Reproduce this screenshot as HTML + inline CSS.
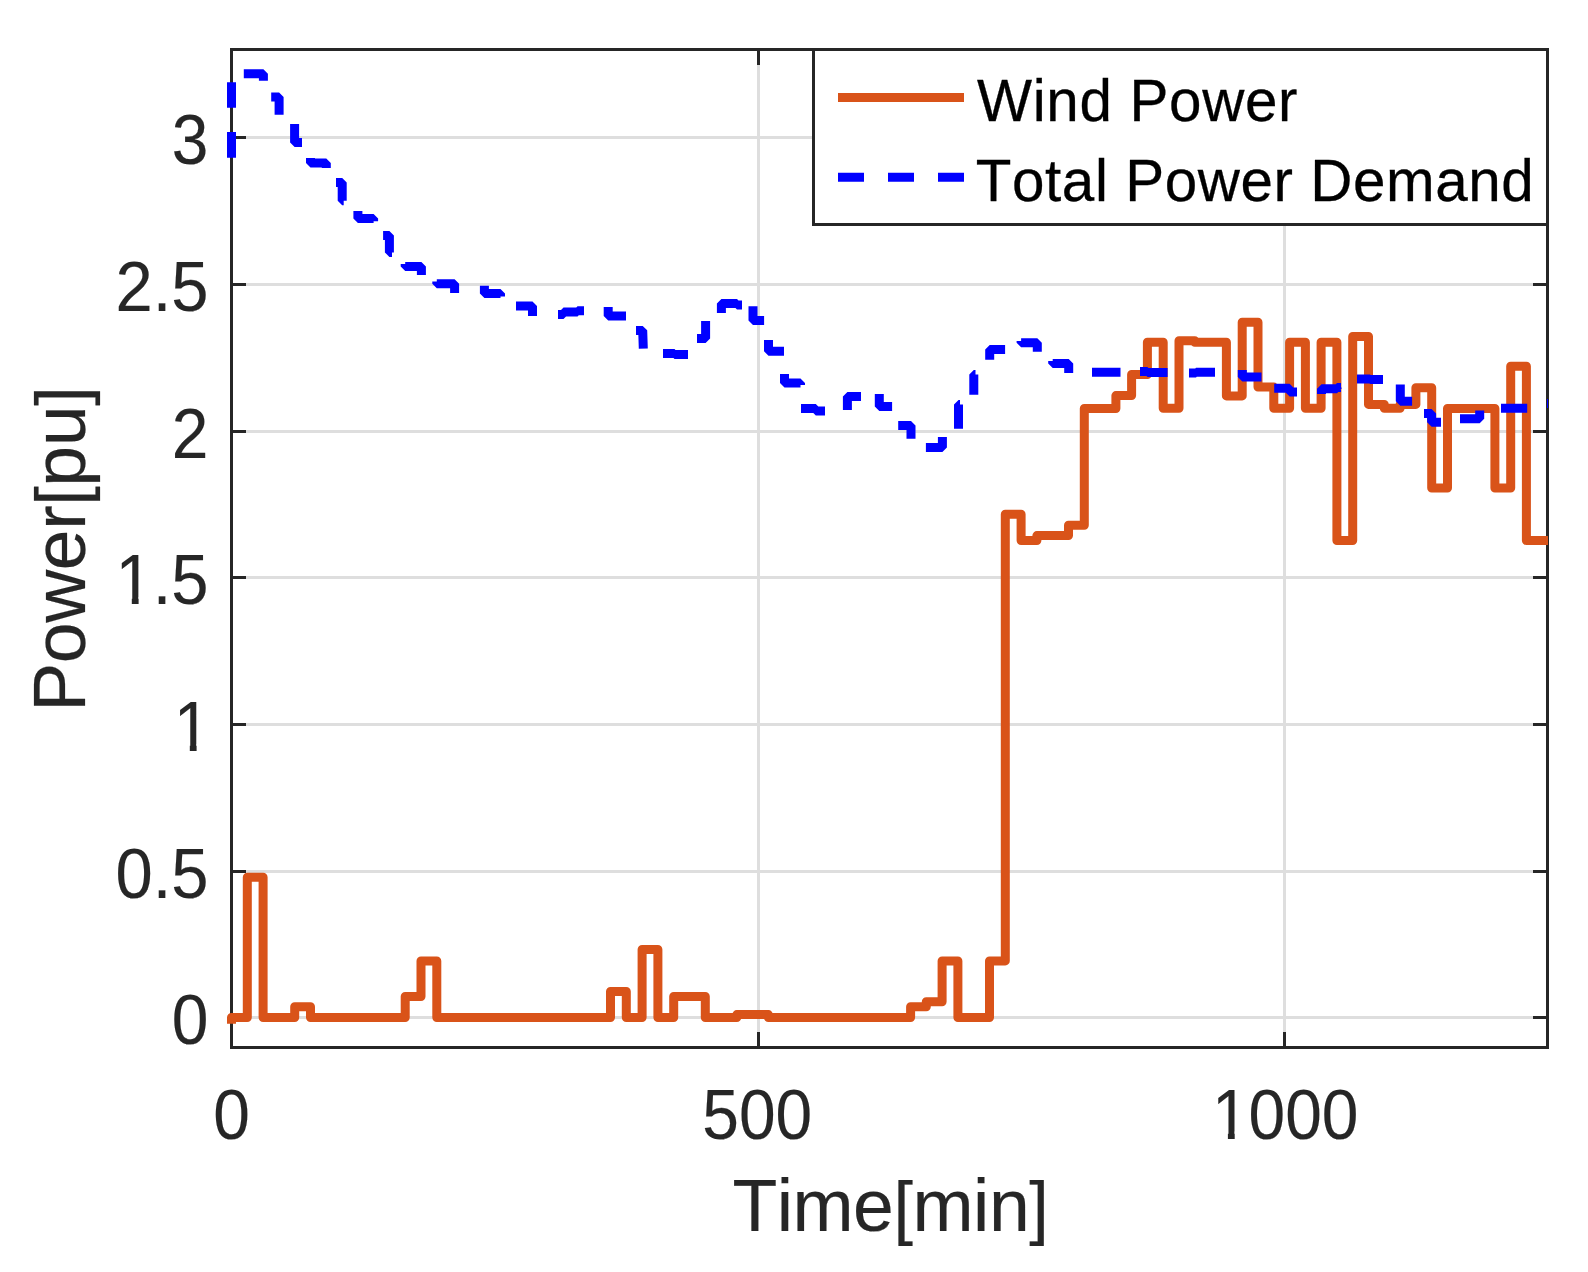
<!DOCTYPE html>
<html lang="en"><head><meta charset="utf-8"><title>Wind Power vs Total Power Demand</title>
<style>html,body{margin:0;padding:0;background:#fff}svg{display:block}text{font-family:"Liberation Sans",Arial,Helvetica,sans-serif;font-kerning:none;font-feature-settings:"kern" 0,"liga" 0}</style></head><body>
<svg width="1588" height="1272" viewBox="0 0 1588 1272">
<rect width="1588" height="1272" fill="#fff"/>
<g stroke="#dedede" stroke-width="3" shape-rendering="crispEdges">
<line x1="231.5" y1="1017.5" x2="1547.5" y2="1017.5"/>
<line x1="231.5" y1="871.5" x2="1547.5" y2="871.5"/>
<line x1="231.5" y1="724.5" x2="1547.5" y2="724.5"/>
<line x1="231.5" y1="577.5" x2="1547.5" y2="577.5"/>
<line x1="231.5" y1="431.5" x2="1547.5" y2="431.5"/>
<line x1="231.5" y1="284.5" x2="1547.5" y2="284.5"/>
<line x1="231.5" y1="137.5" x2="1547.5" y2="137.5"/>
<line x1="758.5" y1="49.5" x2="758.5" y2="1047.5"/>
<line x1="1284.5" y1="49.5" x2="1284.5" y2="1047.5"/>
</g>
<g stroke="#262626" stroke-width="3" fill="none" shape-rendering="crispEdges">
<rect x="231.5" y="49.5" width="1316.0" height="998.0"/>
<line x1="231.5" y1="1017.5" x2="246.0" y2="1017.5"/>
<line x1="1547.5" y1="1017.5" x2="1533.0" y2="1017.5"/>
<line x1="231.5" y1="871.5" x2="246.0" y2="871.5"/>
<line x1="1547.5" y1="871.5" x2="1533.0" y2="871.5"/>
<line x1="231.5" y1="724.5" x2="246.0" y2="724.5"/>
<line x1="1547.5" y1="724.5" x2="1533.0" y2="724.5"/>
<line x1="231.5" y1="577.5" x2="246.0" y2="577.5"/>
<line x1="1547.5" y1="577.5" x2="1533.0" y2="577.5"/>
<line x1="231.5" y1="431.5" x2="246.0" y2="431.5"/>
<line x1="1547.5" y1="431.5" x2="1533.0" y2="431.5"/>
<line x1="231.5" y1="284.5" x2="246.0" y2="284.5"/>
<line x1="1547.5" y1="284.5" x2="1533.0" y2="284.5"/>
<line x1="231.5" y1="137.5" x2="246.0" y2="137.5"/>
<line x1="1547.5" y1="137.5" x2="1533.0" y2="137.5"/>
<line x1="758.5" y1="1047.5" x2="758.5" y2="1032.0"/>
<line x1="758.5" y1="49.5" x2="758.5" y2="65.0"/>
<line x1="1284.5" y1="1047.5" x2="1284.5" y2="1032.0"/>
<line x1="1284.5" y1="49.5" x2="1284.5" y2="65.0"/>
</g>
<path d="M231.5,1023.8 L231.5,1017.5 L247.3,1017.5 L247.3,877.3 L263.1,877.3 L263.1,1017.5 L294.7,1017.5 L294.7,1006.8 L310.5,1006.8 L310.5,1017.5 L405.2,1017.5 L405.2,996.5 L421.0,996.5 L421.0,960.9 L436.8,960.9 L436.8,1017.5 L610.5,1017.5 L610.5,991.4 L626.3,991.4 L626.3,1017.5 L642.1,1017.5 L642.1,949.4 L657.9,949.4 L657.9,1017.5 L673.7,1017.5 L673.7,996.5 L705.3,996.5 L705.3,1017.5 L736.8,1017.5 L736.8,1014.6 L768.4,1014.6 L768.4,1017.5 L910.6,1017.5 L910.6,1006.8 L926.3,1006.8 L926.3,1001.7 L942.1,1001.7 L942.1,960.9 L957.9,960.9 L957.9,1017.5 L989.5,1017.5 L989.5,960.9 L1005.3,960.9 L1005.3,514.3 L1021.1,514.3 L1021.1,540.5 L1036.9,540.5 L1036.9,535.6 L1068.5,535.6 L1068.5,525.3 L1084.3,525.3 L1084.3,408.5 L1115.9,408.5 L1115.9,395.6 L1131.6,395.6 L1131.6,374.5 L1147.4,374.5 L1147.4,342.3 L1163.2,342.3 L1163.2,408.3 L1179.0,408.3 L1179.0,340.8 L1194.8,340.8 L1194.8,342.3 L1226.4,342.3 L1226.4,395.9 L1242.2,395.9 L1242.2,322.3 L1258.0,322.3 L1258.0,387.1 L1273.8,387.1 L1273.8,408.3 L1289.6,408.3 L1289.6,342.3 L1305.4,342.3 L1305.4,408.3 L1321.1,408.3 L1321.1,342.3 L1336.9,342.3 L1336.9,540.5 L1352.7,540.5 L1352.7,336.4 L1368.5,336.4 L1368.5,404.4 L1384.3,404.4 L1384.3,408.3 L1400.1,408.3 L1400.1,404.4 L1415.9,404.4 L1415.9,387.7 L1431.7,387.7 L1431.7,488.0 L1447.5,488.0 L1447.5,408.5 L1494.9,408.5 L1494.9,488.0 L1510.7,488.0 L1510.7,366.3 L1526.4,366.3 L1526.4,540.5 L1548.0,540.5" fill="none" stroke="#d95319" stroke-width="9" stroke-linejoin="round"/>
<path d="M231.5,157.8 L231.5,132 M231.5,107.8 L231.5,82.2 M243.8,73.7 L263.4,73.7 L263.4,80.7 M271.2,96.9 L279.1,96.9 L279.1,114.7 M294.6,124 L294.6,142.5 L302,142.5 M310.5,158 L310.5,163 L326.3,163 L326.3,168 M336,182.5 L342.2,182.5 L342.2,200.8 L343.7,200.8 M357.9,210.9 L357.9,218.4 L373.6,218.4 L373.6,221.2 M383.1,235.5 L389.4,235.5 L389.4,252.4 L392,252.4 M405.2,264 L405.2,266.4 L421.4,266.4 L421.4,275 M436.8,281.5 L436.8,283.8 L454.6,283.8 L454.6,293 M484.4,285.8 L484.4,293.5 L500.5,293.5 L500.5,296.6 M516,306 L532.5,306 L532.5,316 M558,314.6 L563.5,314.6 L563.5,312.1 L577.5,312.1 L577.5,310.7 L584,310.7 M608.2,307 L608.2,316 L626,316 M636,330.4 L642.7,330.4 L643.3,348.7 M663,353.5 L674.5,353.5 L674.5,354.4 L688,354.4 M697,338.4 L705.6,338.4 L705.6,321.1 M721.4,312.9 L721.4,303.4 L737,303.4 L737,305 L742,305 M753,306.2 L753,320.5 L764.1,320.5 M768.5,340 L768.5,351.2 L784,351.2 M784.5,374 L784.5,383 L800.5,383 L800.5,385 M801,408.4 L815.8,408.4 L815.8,411 L825,411 M847.4,409.9 L847.4,396.4 L861,396.4 M879.3,394 L879.3,406.4 L892.1,406.4 M898.2,425.4 L911,425.4 L911,438.8 M925.9,447.4 L942.4,447.4 L942.4,437 M958.5,428.8 L958.5,404.4 L960,404.4 M973.8,394.8 L973.8,374.5 L975.5,374.5 M989.7,359.7 L989.7,349.4 L1005.1,349.4 M1021.1,341 L1021.1,342.7 L1037.3,342.7 L1037.3,351.8 M1052.7,361 L1052.7,363.5 L1068.7,363.5 L1068.7,373 M1092,372.3 L1120.5,372.3 M1140,371.5 L1147.5,371.5 L1147.5,372.4 L1167.6,372.4 M1189,372.9 L1196,372.9 L1196,372.3 L1215,372.3 M1242.3,370 L1242.3,377 L1261.5,377 M1274.2,388.2 L1289.6,388.2 L1289.6,392 L1297,392 M1321.5,394 L1321.5,388.7 L1337,388.7 L1337,387.6 L1341,387.6 M1357,379 L1370,379 L1370,379.5 L1383,379.5 M1400.3,384.5 L1400.3,401.2 L1412.1,401.2 M1424,413.5 L1431.6,413.5 L1431.6,422.3 L1441,422.3 M1460,418.8 L1479.7,418.8 L1479.7,410.5 M1501,408.3 L1527.2,408.3" fill="none" stroke="#0000ff" stroke-width="9" stroke-linejoin="bevel"/>
<rect x="1547" y="399" width="1" height="9" fill="#0000ff"/>
<rect x="813.5" y="49.5" width="734.0" height="175.0" fill="#fff" stroke="#262626" stroke-width="3" shape-rendering="crispEdges"/>
<line x1="838" y1="97.4" x2="964" y2="97.4" stroke="#d95319" stroke-width="9"/>
<line x1="838" y1="177.3" x2="964" y2="177.3" stroke="#0000ff" stroke-width="9" stroke-dasharray="26 24"/>
<g font-size="58.33" fill="#000" stroke="#000" stroke-width="0.3">
<text x="976.9" y="120.6" textLength="320.6" lengthAdjust="spacing">Wind Power</text>
<text x="975.8" y="200.6" textLength="557.9" lengthAdjust="spacing">Total Power Demand</text>
</g>
<g font-size="66.67" fill="#262626" stroke="#262626" stroke-width="0.15">
<text transform="translate(208.5,1044.3) scale(0.988,1.065)" text-anchor="end">0</text>
<text transform="translate(208.5,898.3) scale(1.004,1.065)" text-anchor="end">0.5</text>
<text transform="translate(210.5,751.3) scale(0.988,1.065)" text-anchor="end">1</text>
<text transform="translate(208.5,604.3) scale(1.004,1.065)" text-anchor="end">1.5</text>
<text transform="translate(208.5,458.3) scale(0.988,1.065)" text-anchor="end">2</text>
<text transform="translate(208.5,311.3) scale(1.004,1.065)" text-anchor="end">2.5</text>
<text transform="translate(208.5,164.3) scale(0.988,1.065)" text-anchor="end">3</text>
<text transform="translate(231.6,1138.6) scale(0.988,1.065)" text-anchor="middle">0</text>
<text transform="translate(757.2,1138.6) scale(0.988,1.065)" text-anchor="middle">500</text>
<text transform="translate(1285.2,1138.6) scale(0.988,1.065)" text-anchor="middle">1000</text>
</g>
<rect x="176.4" y="744.1" width="13.4" height="8.8" fill="#fff"/>
<rect x="196.6" y="744.1" width="13.4" height="8.8" fill="#fff"/>
<rect x="118.1" y="597.1" width="13.7" height="8.8" fill="#fff"/>
<rect x="138.6" y="597.1" width="13.7" height="8.8" fill="#fff"/>
<rect x="1214.5" y="1131.4" width="13.4" height="8.8" fill="#fff"/>
<rect x="1234.7" y="1131.4" width="13.4" height="8.8" fill="#fff"/>
<g font-size="73.33" fill="#262626" stroke="#262626" stroke-width="0.2">
<text x="732.4" y="1231" textLength="316.3" lengthAdjust="spacing">Time<tspan font-size="70.2">[</tspan>min<tspan font-size="70.2">]</tspan></text>
<text transform="translate(85.3,711.7) rotate(-90)" textLength="325.4" lengthAdjust="spacing">Power<tspan font-size="70.2">[</tspan>pu<tspan font-size="70.2">]</tspan></text>
</g>
</svg></body></html>
